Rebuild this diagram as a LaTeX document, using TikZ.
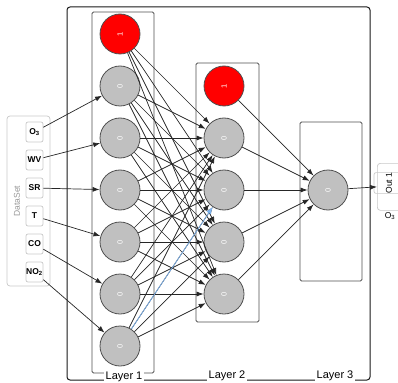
\documentclass[tikz,border=0pt]{standalone}
\usepackage{fontspec}
\setmainfont{Liberation Sans}
\usetikzlibrary{arrows.meta}
\definecolor{nodegray}{RGB}{192,192,192}
\definecolor{rimgray}{RGB}{80,80,80}
\definecolor{framegray}{RGB}{200,200,200}
\definecolor{wireblue}{RGB}{125,180,240}
\definecolor{labelgray}{RGB}{150,150,150}

\begin{document}
\begin{tikzpicture}[x=1pt,y=-1pt,
  neuron/.style={circle, minimum size=40pt, inner sep=0pt, draw=rimgray,
    line width=0.8pt, fill=nodegray, rotate=90, text=white,
    font=\fontsize{7.5}{7.5}\selectfont},
  bias/.style={neuron, fill=red},
  inbox/.style={draw=framegray, line width=0.7pt, rounded corners=2pt,
    minimum width=17pt, minimum height=20pt, inner sep=0pt,
    font=\fontsize{8.5}{8.5}\selectfont\bfseries},
  layerbox/.style={draw=rimgray, line width=0.9pt, rounded corners=1.5pt},
  wire/.style={draw=black!85, line width=0.7pt,
    -{Latex[length=7pt,width=5pt]}},
  layerlabel/.style={fill=white, inner sep=1.5pt,
    font=\fontsize{11}{11}\selectfont}
]
\useasboundingbox (0,0) rectangle (398,382);

% frames
\draw[black!90, line width=1pt, rounded corners=3pt] (67,7) rectangle (370,380);
\draw[layerbox] (92,12) rectangle (154,373);
\draw[layerbox] (196,63) rectangle (259,322);
\draw[layerbox] (300,122) rectangle (362,281);
\draw[framegray, line width=0.7pt, rounded corners=3pt] (7,116) rectangle (50,286);
\node[labelgray, rotate=90, font=\fontsize{8.5}{8.5}\selectfont] (dsname) at (17,201) {DataSet};

% inputs
\node[inbox] (o3)  at (34.5,132) {O\textsubscript{3}};
\node[inbox] (wv)  at (34.5,160) {WV};
\node[inbox] (sr)  at (34.5,188) {SR};
\node[inbox] (t)   at (34.5,216) {T};
\node[inbox] (co)  at (34.5,244) {CO};
\node[inbox] (no2) at (34.5,272) {NO\textsubscript{2}};

% layer 1
\node[bias]   (a0) at (120,34)  {1};
\node[neuron] (a1) at (120,86)  {0};
\node[neuron] (a2) at (120,138) {0};
\node[neuron] (a3) at (120,190) {0};
\node[neuron] (a4) at (120,242) {0};
\node[neuron] (a5) at (120,294) {0};
\node[neuron] (a6) at (120,346) {0};

% layer 2
\node[bias]   (b0) at (224,86)  {1};
\node[neuron] (b1) at (224,138) {0};
\node[neuron] (b2) at (224,190) {0};
\node[neuron] (b3) at (224,242) {0};
\node[neuron] (b4) at (224,294) {0};

% layer 3
\node[neuron] (c1) at (328,190) {0};

% output
\begin{scope}
\clip (0,0) rectangle (398,382);
\node[draw=framegray, line width=0.7pt, rounded corners=3pt, minimum width=26pt,
  minimum height=47pt, anchor=north west, inner sep=0pt] (outbox) at (377,163) {};
\end{scope}
\node[draw=framegray, line width=0.7pt, rounded corners=2pt, minimum width=16pt,
  minimum height=30pt, inner sep=0pt, rotate=90,
  font=\fontsize{8.5}{8.5}\selectfont] (out1) at (389,183) {Out 1};
\node[font=\fontsize{8.5}{8.5}\selectfont] (outname) at (390,216) {O\textsubscript{3}};

% input wires
\draw[wire] (o3)  -- (a1);
\draw[wire] (wv)  -- (a2);
\draw[wire] (sr)  -- (a3);
\draw[wire] (t)   -- (a4);
\draw[wire] (co)  -- (a5);
\draw[wire] (no2) -- (a6);

% layer 1 -> layer 2
\foreach \i in {0,...,6}
  \foreach \j in {1,...,4}
    \draw[wire] (a\i) -- (b\j);
\draw[wire, draw=wireblue, -{Latex[length=7pt,width=5pt,fill=wireblue]}] (a6) -- (b2);

% layer 2 -> layer 3
\foreach \j in {0,...,4}
  \draw[wire] (b\j) -- (c1);

% layer 3 -> output
\draw[wire] (c1) -- (outbox.west);

% layer captions
\node[layerlabel] (cap1) at (124,376.5) {Layer 1};
\node[layerlabel] (cap2) at (227,375.5) {Layer 2};
\node[layerlabel] (cap3) at (335,375.5) {Layer 3};
\end{tikzpicture}
\end{document}
